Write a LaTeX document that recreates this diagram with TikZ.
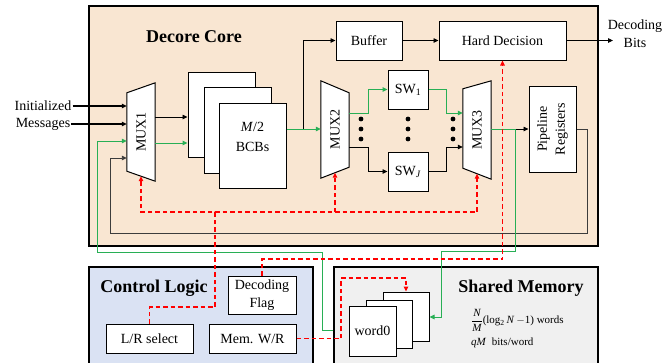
\documentclass[tikz,border=0pt]{standalone}
\usepackage{fontspec}
\setmainfont{Liberation Serif}
\usetikzlibrary{arrows.meta,calc}
\definecolor{corefill}{RGB}{249,230,210}
\definecolor{ctrlfill}{RGB}{218,226,243}
\definecolor{memfill}{RGB}{240,240,240}
\definecolor{gline}{RGB}{40,175,85}
\definecolor{fbline}{RGB}{60,60,60}
\definecolor{ctlred}{RGB}{255,0,0}
\begin{document}
\begin{tikzpicture}[x=1pt,y=-1pt,
  font=\fontsize{14}{18}\selectfont,
  region/.style={draw=black, line width=1.3pt, inner sep=0pt},
  blk/.style={draw=black, fill=white, line width=1pt, inner sep=0pt, align=center},
  lbl/.style={inner sep=1pt, align=center},
  ttl/.style={font=\fontsize{18}{22}\selectfont\bfseries, inner sep=0pt},
  muxbox/.style={inner sep=0pt, minimum width=28pt},
  muxshape/.style={draw=black, fill=white, line width=1pt, line join=miter},
  arr/.style={-{Triangle[length=5pt,width=4.5pt]}},
  wire/.style={line width=0.8pt, draw=black, color=black},
  gwire/.style={line width=1pt, draw=gline, color=gline},
  rwire/.style={line width=1.2pt, draw=ctlred, color=ctlred, dash pattern=on 4.5pt off 3pt},
  fbwire/.style={line width=0.9pt, draw=fbline, color=fbline},
  small/.style={font=\fontsize{11}{13}\selectfont, inner sep=0pt, anchor=west},
]
\useasboundingbox (0,0) rectangle (663,362);

% regions
\node[region, fill=corefill, minimum width=509pt, minimum height=240pt] (core) at (343.5,126) {};
\node[region, fill=ctrlfill, minimum width=224pt, minimum height=108pt] (ctrl) at (201,321) {};
\node[region, fill=memfill, minimum width=264pt, minimum height=108pt] (shm) at (466,321) {};

\node[ttl] (corelbl) at (194,37) {Decore Core};
\node[ttl] (ctrllbl) at (154,288) {Control Logic};
\node[ttl] (shmlbl) at (521,288) {Shared Memory};

% external labels
\node[lbl] (init) at (43,106) {Initialized};
\node[lbl] (msgs) at (43,124) {Messages};
\node[lbl] (bits) at (635,34) {Decoding\\Bits};
\coordinate (bitsin) at (613,40.5);

% MUX1
\node[muxbox, minimum height=98pt] (mux1) at (141,132) {};
\coordinate (m1tl) at ([yshift=-10pt]mux1.north west);
\coordinate (m1bl) at ([yshift=10pt]mux1.south west);
\draw[muxshape] (m1tl) -- (mux1.north east) -- (mux1.south east) -- (m1bl) -- cycle;
\node[rotate=90, inner sep=0pt] (mux1t) at (mux1) {MUX1};
\coordinate (m1b) at ($(m1bl)!0.5!(mux1.south east)$);

% MUX2
\node[muxbox, minimum height=97pt] (mux2) at (335,129.5) {};
\coordinate (m2tr) at ([yshift=-12pt]mux2.north east);
\coordinate (m2br) at ([yshift=11pt]mux2.south east);
\draw[muxshape] (mux2.north west) -- (m2tr) -- (m2br) -- (mux2.south west) -- cycle;
\node[rotate=90, inner sep=0pt] (mux2t) at (mux2) {MUX2};
\coordinate (m2b) at ($(mux2.south west)!0.5!(m2br)$);

% MUX3
\node[muxbox, minimum height=98pt] (mux3) at (477,130) {};
\coordinate (m3tl) at ([yshift=-8pt]mux3.north west);
\coordinate (m3bl) at ([yshift=11pt]mux3.south west);
\draw[muxshape] (m3tl) -- (mux3.north east) -- (mux3.south east) -- (m3bl) -- cycle;
\node[rotate=90, inner sep=0pt] (mux3t) at (mux3) {MUX3};
\coordinate (m3b) at ($(m3bl)!0.5!(mux3.south east)$);

% BCBs
\node[blk, minimum width=67pt, minimum height=85pt] (bcb3) at (221.5,114.5) {};
\node[blk, minimum width=67pt, minimum height=86pt] (bcb2) at (237.5,130) {};
\node[blk, minimum width=67pt, minimum height=85pt, text height=12pt] (bcb1) at (252.5,145.5) {\textit{M}/2\\[2pt]BCBs};

% top row
\node[blk, minimum width=66pt, minimum height=39pt] (buffer) at (369,40.5) {Buffer};
\node[blk, minimum width=127pt, minimum height=39pt] (hd) at (502.5,40.5) {Hard Decision};

% switches
\node[blk, minimum width=40pt, minimum height=39pt] (sw1) at (408,89.5) {SW\textsubscript{1}};
\node[blk, minimum width=40pt, minimum height=39pt] (swJ) at (408,171.5) {SW\textsubscript{\textit{J}}};
\foreach \dx in {361,408,453}
  \foreach \dy in {119,129,139}
    \fill (\dx,\dy) circle (2.4pt);

% pipeline
\node[blk, minimum width=47pt, minimum height=86pt] (pipe) at (552.5,129) {};
\node[rotate=90, lbl] (pipet) at (pipe) {Pipeline\\Registers};

% control logic blocks
\node[blk, minimum width=68pt, minimum height=38pt] (decflag) at (262,295) {Decoding\\Flag};
\node[blk, minimum width=87pt, minimum height=29pt] (lrsel) at (149.5,338.5) {L/R select};
\node[blk, minimum width=87pt, minimum height=29pt] (memwr) at (252.5,338.5) {Mem. W/R};

% memory words
\node[blk, minimum width=46pt, minimum height=49pt] (wb3) at (406,316.5) {};
\node[blk, minimum width=46pt, minimum height=48pt] (wb2) at (389,324) {};
\node[blk, minimum width=47pt, minimum height=50pt] (wb1) at (372.5,331) {word0};

\node[small] (cap1) at (471,320) {$\displaystyle\frac{\mbox{\itshape N}}{\mbox{\itshape M}}$(log\textsubscript{2}\,\textit{N}\,$-$1) words};
\node[small] (cap2) at (471,343) {\textit{qM}\enspace bits/word};

% ---- black connectors ----
\draw[wire, line width=1.1pt, arr] (init.east) -- (init.east -| mux1.west);
\draw[wire, line width=1.1pt, arr] (msgs.east) -- (msgs.east -| mux1.west);
\draw[wire, arr] (mux1.east |- 0,117) -- (bcb3.west |- 0,117);

\coordinate (tap1) at (303,129);
\draw[wire, arr] (tap1) |- (buffer.west);
\draw[wire, arr] (buffer.east) -- (hd.west);
\draw[wire, arr] (hd.east) -- (bitsin);
\draw[wire, arr] (mux2.east |- 0,147) -- (368,147) |- (swJ.west);
\draw[wire, arr] (swJ.east) -| (446,147) -- (mux3.west |- 0,147);

\coordinate (tap2) at (515,129);
\draw[wire, arr] (tap2) -- (pipe.west);
\draw[fbwire, arr] (pipe.east) -| (587,233) -| (110,158) -- (mux1.west |- 0,158);

% ---- green (data) connectors ----
\draw[gwire, arr] (mux1.east |- 0,143) -- (bcb3.west |- 0,143);
\draw[gwire, arr] (bcb1.east |- tap1) -- (mux2.west |- tap1);
\draw[gwire, arr] (mux2.east |- 0,113) -- (368,113) |- (sw1.west);
\draw[gwire, arr] (sw1.east) -| (446,113) -- (mux3.west |- 0,113);
\draw[gwire, arr] (mux3.east |- tap2) -- (tap2) -- (515,251) -- (441,251) -- (441,317) -- (wb3.east |- 0,317);
\coordinate (shmout) at (shm.west |- 0,330);
\draw[gwire, arr] (shmout) -- (322,330) -- (322,252) -- (97,252) -- (97,141) -- (mux1.west |- 0,141);

% ---- control (red dashed) ----
\coordinate (lrjoin) at (215,212);
\draw[rwire, arr] (decflag.north) |- (hd.south |- 0,259) -- (hd.south);
\draw[rwire, arr] (memwr.east) -| (341,278) -| (wb3.north);
\draw[rwire, arr] (lrsel.north) |- (215,307) -- (lrjoin) -| (m1b);
\draw[rwire, arr] (lrjoin) -| (m3b);
\draw[rwire, arr] (m2b |- lrjoin) -- (m2b);
\end{tikzpicture}
\end{document}
